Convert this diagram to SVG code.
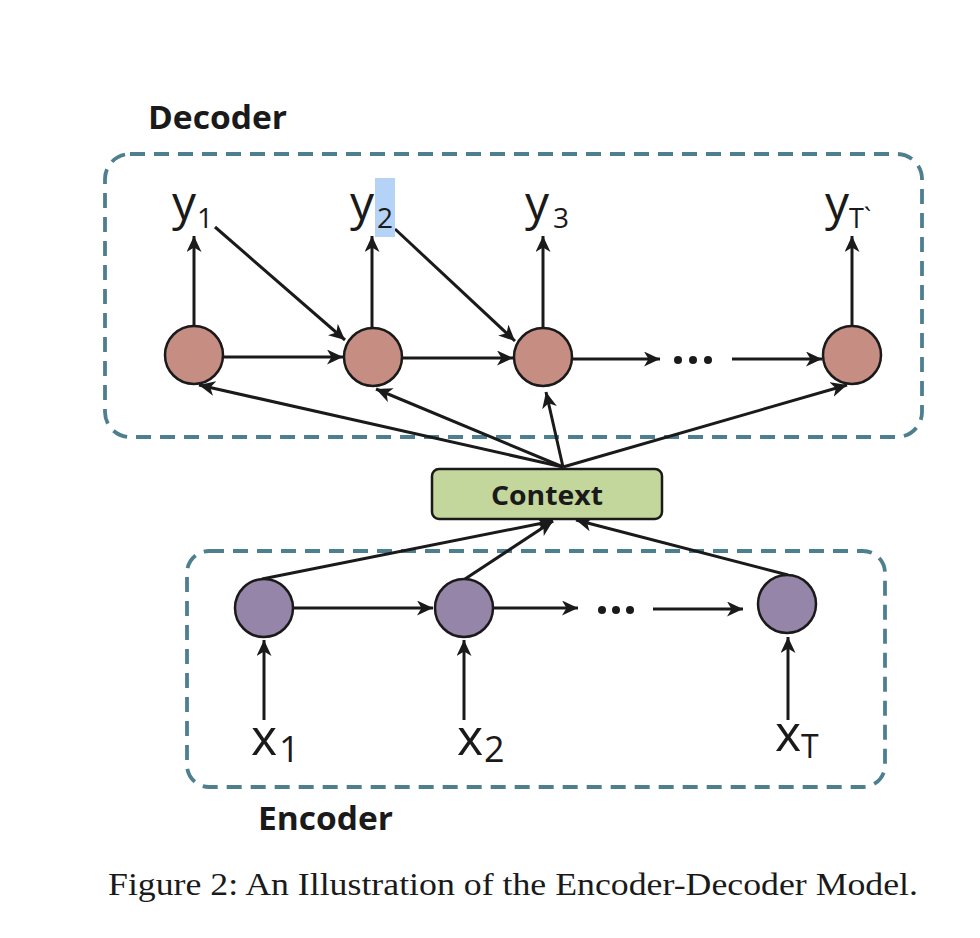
<svg xmlns="http://www.w3.org/2000/svg" width="980" height="938" viewBox="0 0 980 938">
<style>
.box{fill:none;stroke:#4e7f8f;stroke-width:3.8;stroke-dasharray:15 9}
.dec{fill:#c68d83;stroke:#1a1a1a;stroke-width:2.5}
.enc{fill:#9585a8;stroke:#1a1a1a;stroke-width:2.5}
.ar{fill:none;stroke:#1a1a1a;stroke-width:3;marker-end:url(#ah)}
.lbl{font-family:"Open Sans","Liberation Sans",sans-serif;fill:#1a1a1a}
.ttl{font-family:"Open Sans","Liberation Sans",sans-serif;font-weight:bold;fill:#1a1a1a}
.dot{fill:#1a1a1a}
</style>
<defs>
<marker id="ah" markerUnits="userSpaceOnUse" markerWidth="18" markerHeight="16" refX="16" refY="7.5" orient="auto">
<path d="M0,0 L16,7.5 L0,15 L4.5,7.5 z" fill="#1a1a1a"/>
</marker>
</defs>
<rect width="980" height="938" fill="#ffffff"/>

<g id="decoder-box">
<rect class="box" x="105" y="154" width="817" height="283" rx="25"/>
<text class="ttl" x="148" y="129" font-size="32" textLength="139" lengthAdjust="spacingAndGlyphs">Decoder</text>
</g>
<g id="encoder-box">
<rect class="box" x="187" y="551" width="698" height="236" rx="22"/>
<text class="ttl" x="258" y="830" font-size="32" textLength="135" lengthAdjust="spacingAndGlyphs">Encoder</text>
</g>

<g id="connectors">
<line class="ar" x1="194" y1="326" x2="194" y2="236"/>
<line class="ar" x1="372" y1="328" x2="372" y2="236"/>
<line class="ar" x1="543" y1="328" x2="543" y2="236"/>
<line class="ar" x1="852" y1="326" x2="852" y2="236"/>
<line class="ar" x1="215" y1="227" x2="345" y2="340"/>
<line class="ar" x1="395" y1="229" x2="515" y2="341"/>
<line class="ar" x1="223" y1="357" x2="343" y2="357"/>
<line class="ar" x1="402" y1="358" x2="513" y2="358"/>
<line class="ar" x1="572" y1="359" x2="660" y2="359"/>
<line class="ar" x1="732" y1="359" x2="822" y2="359"/>
<line class="ar" x1="563" y1="467" x2="199" y2="385"/>
<line class="ar" x1="563" y1="467" x2="376" y2="389"/>
<line class="ar" x1="563" y1="467" x2="546" y2="392"/>
<line class="ar" x1="563" y1="467" x2="847" y2="385"/>
<line class="ar" x1="262" y1="579" x2="553" y2="521"/>
<line class="ar" x1="465" y1="579" x2="553" y2="521"/>
<line class="ar" x1="788" y1="575" x2="576" y2="520"/>
<line class="ar" x1="293" y1="608" x2="433" y2="608"/>
<line class="ar" x1="493" y1="608" x2="578" y2="608"/>
<line class="ar" x1="653" y1="609" x2="743" y2="609"/>
<line class="ar" x1="264" y1="720" x2="264" y2="640"/>
<line class="ar" x1="464" y1="720" x2="464" y2="640"/>
<line class="ar" x1="788" y1="720" x2="788" y2="637"/>
</g>

<g id="dots">
<circle class="dot" cx="678" cy="360" r="4"/>
<circle class="dot" cx="693" cy="360" r="4"/>
<circle class="dot" cx="708" cy="360" r="4"/>
<circle class="dot" cx="602" cy="610" r="4"/>
<circle class="dot" cx="616" cy="610" r="4"/>
<circle class="dot" cx="630" cy="610" r="4"/>
</g>

<g id="d1"><circle class="dec" cx="194" cy="355" r="29"/></g>
<g id="d2"><circle class="dec" cx="373" cy="357" r="29"/></g>
<g id="d3"><circle class="dec" cx="543" cy="357" r="29"/></g>
<g id="d4"><circle class="dec" cx="852" cy="355" r="29"/></g>

<g id="e1"><circle class="enc" cx="264" cy="608" r="29"/></g>
<g id="e2"><circle class="enc" cx="464" cy="608" r="29"/></g>
<g id="e3"><circle class="enc" cx="787" cy="604" r="29"/></g>

<g id="context">
<rect x="432" y="469" width="230" height="50" rx="7" fill="#c3d69b" stroke="#1a1a1a" stroke-width="2.5"/>
<text class="ttl" x="547" y="505" font-size="27" text-anchor="middle" textLength="112" lengthAdjust="spacingAndGlyphs">Context</text>
</g>

<g id="y1"><text class="lbl" x="172" y="220" font-size="48">y</text><text class="lbl" x="197" y="228" font-size="28">1</text></g>
<g id="y2"><rect x="375" y="178" width="20" height="59" fill="#b5d3f7"/><text class="lbl" x="350" y="220" font-size="48">y</text><text class="lbl" x="377" y="228" font-size="28">2</text></g>
<g id="y3"><text class="lbl" x="525" y="220" font-size="48">y</text><text class="lbl" x="553" y="228" font-size="28">3</text></g>
<g id="yT"><text class="lbl" x="825" y="220" font-size="48">y</text><text class="lbl" x="849" y="228" font-size="27">T`</text></g>

<g id="x1"><text class="lbl" x="251" y="755" font-size="50">x</text><text class="lbl" x="279" y="762" font-size="36">1</text></g>
<g id="x2"><text class="lbl" x="457" y="755" font-size="50">x</text><text class="lbl" x="484" y="762" font-size="36">2</text></g>
<g id="xT"><text class="lbl" x="775" y="751" font-size="50">x</text><text class="lbl" x="801" y="758" font-size="32">T</text></g>

<g id="caption">
<text x="108" y="895" font-family="'Liberation Serif','DejaVu Serif',serif" font-size="31" fill="#1a1a1a" textLength="810" lengthAdjust="spacingAndGlyphs">Figure 2: An Illustration of the Encoder-Decoder Model.</text>
</g>
</svg>
